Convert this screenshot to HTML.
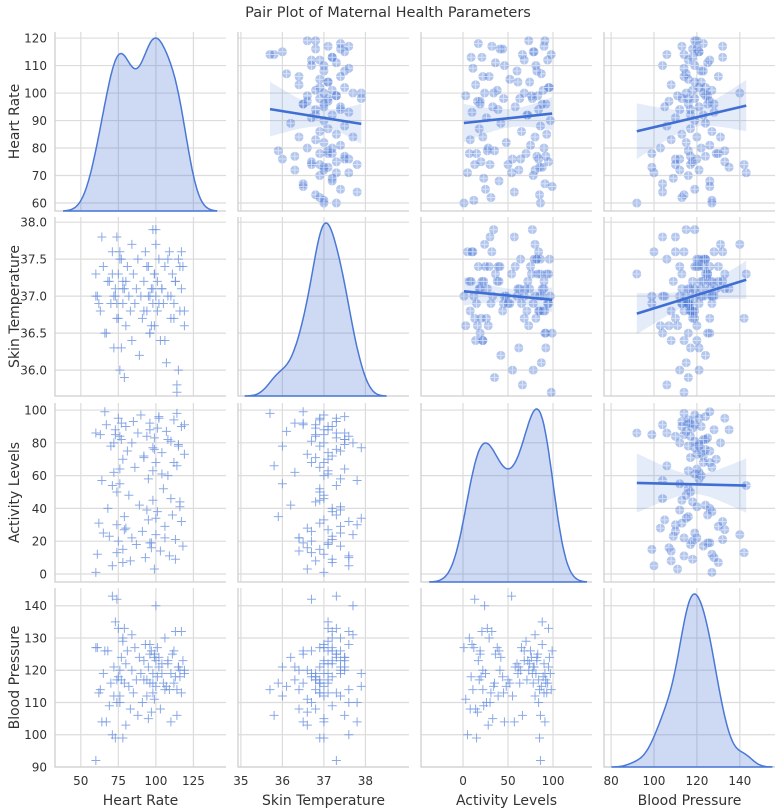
<!DOCTYPE html>
<html><head><meta charset="utf-8">
<style>
html,body{margin:0;padding:0;background:#fff;}
svg{display:block;font-family:"DejaVu Sans","Liberation Sans",sans-serif;}
</style></head>
<body>
<svg id="chart" width="777" height="810" viewBox="0 0 777 810" xmlns="http://www.w3.org/2000/svg">
<text x="388" y="17" text-anchor="middle" font-size="14.5" fill="#333">Pair Plot of Maternal Health Parameters</text>
</svg>
<script>
const varNames = ["Heart Rate","Skin Temperature","Activity Levels","Blood Pressure"];
const heartRate = [61,63,65,67,68,70,71,72,73,74, 75,75,76,77,78,78,79,80,80,81, 82,83,84,84,85,86,87,88,89,90, 91,92,93,94,95,95,96,97,98,98, 99,99,100,100,101,101,102,103,104,105, 106,107,108,109,110,111,112,113,114,115, 116,117,118,119,60,60,62,64,66,69, 72,74,76,77,79,74,76,78,92,94, 96,97,99,100,102,104,106,108,110,112, 113,115,117,119,71,73,96,98,114,116];
const skinTemp = [37.0,36.8,37.4,36.5,37.2,36.9,37.6,36.3,37.1,37.8, 36.7,37.3,36.0,37.5,36.9,37.1,35.9,37.2,36.6,37.4, 37.0,36.8,37.7,36.4,37.3,36.9,37.1,37.5,36.2,37.0, 36.7,37.2,37.6,36.8,37.0,37.4,36.5,37.1,37.9,36.9, 37.3,36.6,37.0,37.7,36.8,37.2,37.5,36.4,37.1,36.9, 37.4,36.1,37.0,37.6,36.7,37.3,36.9,37.2,35.8,37.5, 36.8,37.1,37.4,36.6,37.0,37.3,36.9,37.8,36.5,37.2, 37.0,36.7,37.5,36.3,37.1,36.9,37.6,37.2,36.8,37.4, 37.0,36.6,37.3,37.9,36.9,37.1,36.4,37.5,37.0,36.7, 37.2,36.0,37.6,36.8,37.3,37.0,36.5,37.1,35.7,37.4];
const activity = [12,85,25,91,40,78,5,62,88,30, 20,95,55,82,15,70,35,90,28,75, 48,8,80,22,93,65,18,86,42,97, 26,72,10,84,33,58,92,19,77,45, 83,3,68,24,89,38,96,14,74,52, 29,87,60,11,81,36,94,21,66,79, 44,90,17,73,1,86,31,57,99,23, 80,13,64,92,27,50,84,7,71,39, 88,16,76,34,95,61,22,82,46,68, 9,78,32,91,54,85,19,63,98,41];
const bloodPressure = [127,114,119,104,126,116,100,121,135,110, 118,133,112,124,99,129,116,122,103,126, 115,108,131,120,113,127,117,106,124,119, 110,123,128,117,105,121,116,126,119,113, 125,111,123,140,118,127,124,108,122,116, 130,115,122,114,119,125,116,132,106,121, 118,113,123,120,127,92,113,104,126,109, 112,142,120,117,133,117,110,130,117,112, 128,107,124,115,121,119,114,123,104,126, 118,121,132,119,143,99,125,116,114,120];
const hrTicks = [50,75,100,125];
const hrYTicks = [60,70,80,90,100,110,120];
const stTicks = [35,36,37,38];
const stYTicks = ["36.0","36.5","37.0","37.5","38.0"];
const alTicks = [0,50,100];
const alYTicks = [0,20,40,60,80,100];
const bpTicks = [80,100,120,140];
const bpYTicks = [90,100,110,120,130,140];

const NS="http://www.w3.org/2000/svg";
const svg=document.getElementById("chart");
const data=[heartRate,skinTemp,activity,bloodPressure];
const xDom=[[32.8,146.7],[34.93,39.05],[-46.7,143.3],[76.7,156.4]];
const yDom=[[57.1,122.2],[35.65,38.07],[-4.9,104.3],[90,145.5]];
const xT=[hrTicks,stTicks,alTicks,bpTicks];
const yT=[hrYTicks,stYTicks.map(Number),alYTicks,bpYTicks];
const yTL=[hrYTicks.map(String),stYTicks,alYTicks.map(String),bpYTicks.map(String)];
const colL=[55,238,421,604], rowT=[32,217,403,588], W=171, H=179;
const slug=["heart-rate","skin-temperature","activity-levels","blood-pressure"];
const BLUE="#4a78d6";
function mk(tag,attrs,parent){const e=document.createElementNS(NS,tag);for(const k in attrs)e.setAttribute(k,attrs[k]);(parent||svg).appendChild(e);return e;}
function sx(j,v){return colL[j]+(v-xDom[j][0])/(xDom[j][1]-xDom[j][0])*W;}
function sy(i,v){return rowT[i]+H-(v-yDom[i][0])/(yDom[i][1]-yDom[i][0])*H;}
function mean(a){return a.reduce((s,v)=>s+v,0)/a.length;}
function sd(a){const m=mean(a);return Math.sqrt(a.reduce((s,v)=>s+(v-m)*(v-m),0)/(a.length-1));}

for(let i=0;i<4;i++){for(let j=0;j<4;j++){
  const g=mk("g",{});
  
  
  const x0=colL[j],y0=rowT[i];
  xT[j].forEach(t=>{const X=sx(j,t);mk("line",{x1:X,x2:X,y1:y0,y2:y0+H,stroke:"#dcdcdc","stroke-width":1.2},g);});
  yT[i].forEach(t=>{const Y=sy(i,t);mk("line",{x1:x0,x2:x0+W,y1:Y,y2:Y,stroke:"#dcdcdc","stroke-width":1.2},g);});
  const sp=mk("path",{d:`M${x0},${y0}V${y0+H}H${x0+W}`,fill:"none",stroke:"#cfcfcf","stroke-width":1.3},g);
  
  
  const xs=data[j], ys=data[i], n=xs.length;
  if(i===j){
    const s=sd(xs), bw=1.06*s*Math.pow(n,-0.2);
    const lo=Math.min(...xs)-3*bw, hi=Math.max(...xs)+3*bw;
    const pts=[];let mx=0;
    for(let k=0;k<=200;k++){const v=lo+(hi-lo)*k/200;let d=0;xs.forEach(p=>{const z=(v-p)/bw;d+=Math.exp(-0.5*z*z);});pts.push([v,d]);if(d>mx)mx=d;}
    const base=y0+H, top=y0+6;
    let d=`M${sx(j,lo)},${base}`;
    pts.forEach(p=>{d+=`L${sx(j,p[0]).toFixed(1)},${(base-(p[1]/mx)*(base-top)).toFixed(1)}`;});
    d+=`L${sx(j,hi)},${base}Z`;
    const k=mk("path",{d:d,fill:"rgba(74,120,214,0.27)",stroke:BLUE,"stroke-width":1.5},g);
    
    
  } else if(i>j){
    for(let k=0;k<n;k++){
      const X=sx(j,xs[k]),Y=sy(i,ys[k]);
      const m=mk("path",{d:`M${X-4.5},${Y}H${X+4.5}M${X},${Y-4.5}V${Y+4.5}`,stroke:"#6e93e0","stroke-width":1,"stroke-opacity":0.8},g);
      
      
    }
  } else {
    const mxv=mean(xs),myv=mean(ys);let sxx=0,sxy=0;
    for(let k=0;k<n;k++){sxx+=(xs[k]-mxv)**2;sxy+=(xs[k]-mxv)*(ys[k]-myv);}
    const b=sxy/sxx,a=myv-b*mxv;let sse=0;
    for(let k=0;k<n;k++){sse+=(ys[k]-a-b*xs[k])**2;}
    const se=Math.sqrt(sse/(n-2));
    const lo=Math.min(...xs),hi=Math.max(...xs);
    let up="",dn=[];
    for(let k=0;k<=40;k++){const v=lo+(hi-lo)*k/40;const h=1.98*se*Math.sqrt(1/n+(v-mxv)**2/sxx);const yv=a+b*v;
      up+=(k?"L":"M")+sx(j,v).toFixed(1)+","+sy(i,yv+h).toFixed(1);dn.unshift("L"+sx(j,v).toFixed(1)+","+sy(i,yv-h).toFixed(1));}
    const band=mk("path",{d:up+dn.join("")+"Z",fill:"rgba(74,120,214,0.15)",stroke:"none"},g);
    
    
    for(let k=0;k<n;k++){
      const X=sx(j,xs[k]),Y=sy(i,ys[k]);
      const c=mk("circle",{cx:X,cy:Y,r:4.5,fill:"rgba(74,120,214,0.42)"},g);
      
      
      mk("path",{d:`M${X-4.5},${Y}H${X+4.5}M${X},${Y-4.5}V${Y+4.5}`,stroke:"rgba(255,255,255,0.5)","stroke-width":1},g);
    }
    const ln=mk("line",{x1:sx(j,lo),y1:sy(i,a+b*lo),x2:sx(j,hi),y2:sy(i,a+b*hi),stroke:"#3f6fd2","stroke-width":2.6},g);
    
    
  }
  if(j===0){
    yT[i].forEach((t,ti)=>{const tx=mk("text",{x:47,y:sy(i,t)+4.5,"text-anchor":"end","font-size":12,fill:"#333"});tx.textContent=yTL[i][ti];
      
      });
    const cy=y0+H/2;
    const yt=mk("text",{x:0,y:0,transform:`translate(19,${cy}) rotate(-90)`,"text-anchor":"middle","font-size":14,fill:"#333"});
    yt.textContent=varNames[i];
    
    
  }
  if(i===3){
    xT[j].forEach(t=>{const tx=mk("text",{x:sx(j,t),y:785,"text-anchor":"middle","font-size":12,fill:"#333"});tx.textContent=String(t);
      
      });
    const xt=mk("text",{x:x0+W/2,y:805,"text-anchor":"middle","font-size":14,fill:"#333"});
    xt.textContent=varNames[j];
    
    
  }
}}
</script>
</body></html>
